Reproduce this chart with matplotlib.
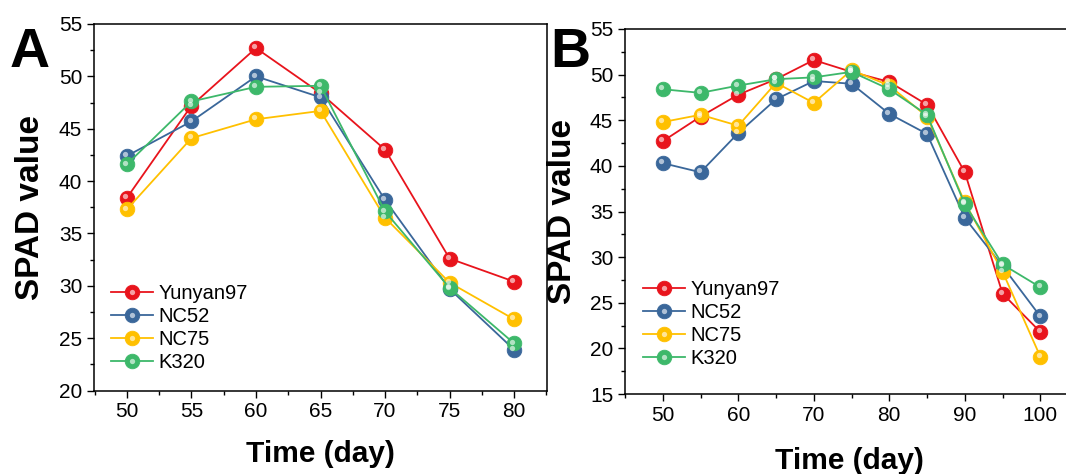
import matplotlib
matplotlib.use("Agg")
import matplotlib.pyplot as plt
import matplotlib.transforms as mtransforms
from matplotlib.ticker import MultipleLocator
from matplotlib.legend_handler import HandlerTuple

plt.rcParams['font.family'] = ['Liberation Sans', 'DejaVu Sans']

# Panel A data
days_a = [50, 55, 60, 65, 70, 75, 80]
yunyan97_a = [38.4, 47.2, 52.7, 48.4, 43.0, 32.6, 30.4]
nc52_a = [42.4, 45.7, 50.0, 48.0, 38.2, 29.7, 23.9]
nc75_a = [37.3, 44.1, 45.9, 46.7, 36.5, 30.3, 26.8]
k320_a = [41.6, 47.6, 49.0, 49.1, 37.1, 29.8, 24.5]

# Panel B data
days_b = [50, 55, 60, 65, 70, 75, 80, 85, 90, 95, 100]
yunyan97_b = [42.7, 45.4, 47.8, 49.5, 51.6, 50.3, 49.2, 46.7, 39.3, 26.0, 21.8]
nc52_b = [40.3, 39.3, 43.6, 47.3, 49.3, 49.0, 45.7, 43.5, 34.3, 29.0, 23.5]
nc75_b = [44.8, 45.6, 44.4, 49.1, 46.9, 50.5, 48.8, 45.4, 36.0, 28.4, 19.1]
k320_b = [48.4, 48.0, 48.8, 49.5, 49.7, 50.3, 48.4, 45.6, 35.8, 29.2, 26.7]

names = ['Yunyan97', 'NC52', 'NC75', 'K320']
colors = ['#E8141C', '#3A679A', '#FFC000', '#3DB86A']

W, H = 1066, 474
fig = plt.figure(figsize=(W / 100, H / 100), dpi=100)


def draw_panel(ax, days, series, legend_xy):
    handles = []
    hl = mtransforms.offset_copy(ax.transData, fig=fig, x=-1.8, y=1.8, units='dots')
    for vals, c, name in zip(series, colors, names):
        ln, = ax.plot(days, vals, '-o', color=c, lw=1.3, ms=10.5,
                      mfc=c, mec=c, mew=0.6, label=name, zorder=3)
        # shiny highlight to mimic the 3D ball markers
        ax.plot(days, vals, 'o', ls='none', color='white', alpha=0.6,
                ms=3.8, mew=0, transform=hl, zorder=4)
        hi2, = ax.plot([], [], 'o', ls='none', color='white', alpha=0.6, ms=3.8, mew=0)
        handles.append((ln, hi2))
    ax.legend(handles, names, handler_map={tuple: HandlerTuple(ndivide=1)},
              frameon=False, loc='upper left', fontsize=14.5,
              bbox_to_anchor=(legend_xy[0] / W, 1 - legend_xy[1] / H),
              bbox_transform=fig.transFigure, borderpad=0, borderaxespad=0,
              handlelength=2.1, handletextpad=0.25, labelspacing=0.2)
    ax.tick_params(which='both', direction='out', labelsize=15, width=1)
    ax.tick_params(which='major', length=5, pad=3.5)
    ax.tick_params(which='minor', length=3)
    for s in ax.spines.values():
        s.set_linewidth(1.1)
    ax.set_ylabel('SPAD value', fontsize=24, fontweight='bold')
    ax.set_xlabel('Time (day)', fontsize=21.5, fontweight='bold')


# Panel A
axA = fig.add_axes([94 / W, 1 - 390.5 / H, (547 - 94) / W, (390.5 - 24) / H])
draw_panel(axA, days_a, [yunyan97_a, nc52_a, nc75_a, k320_a], (111, 284))
axA.set_xlim(47.45, 82.55)
axA.set_ylim(20, 55)
axA.xaxis.set_major_locator(MultipleLocator(5))
axA.xaxis.set_minor_locator(MultipleLocator(2.5))
axA.yaxis.set_major_locator(MultipleLocator(5))
axA.yaxis.set_minor_locator(MultipleLocator(2.5))
axA.yaxis.set_label_coords(-0.105, 0.5)
axA.xaxis.set_label_coords(0.5, -0.135)

# Panel B (cut off at the right edge)
axB = fig.add_axes([625 / W, 1 - 394 / H, (W - 625) / W, (394 - 29) / H])
draw_panel(axB, days_b, [yunyan97_b, nc52_b, nc75_b, k320_b], (643, 280))
axB.set_xlim(45, 103.4)
axB.set_ylim(15, 55)
axB.spines['right'].set_visible(False)
axB.xaxis.set_major_locator(MultipleLocator(10))
axB.xaxis.set_minor_locator(MultipleLocator(5))
axB.yaxis.set_major_locator(MultipleLocator(5))
axB.yaxis.set_minor_locator(MultipleLocator(2.5))
axB.yaxis.set_label_coords(-0.107, 0.5)
axB.xaxis.set_label_coords(0.51, -0.145)

# panel letters
fig.text(10 / W, 1 - 67 / H, 'A', fontsize=40, fontweight='bold', va='baseline', ha='left')
fig.text(550 / W, 1 - 67 / H, 'B', fontsize=40, fontweight='bold', va='baseline', ha='left')

fig.savefig('out.png', dpi=100)
